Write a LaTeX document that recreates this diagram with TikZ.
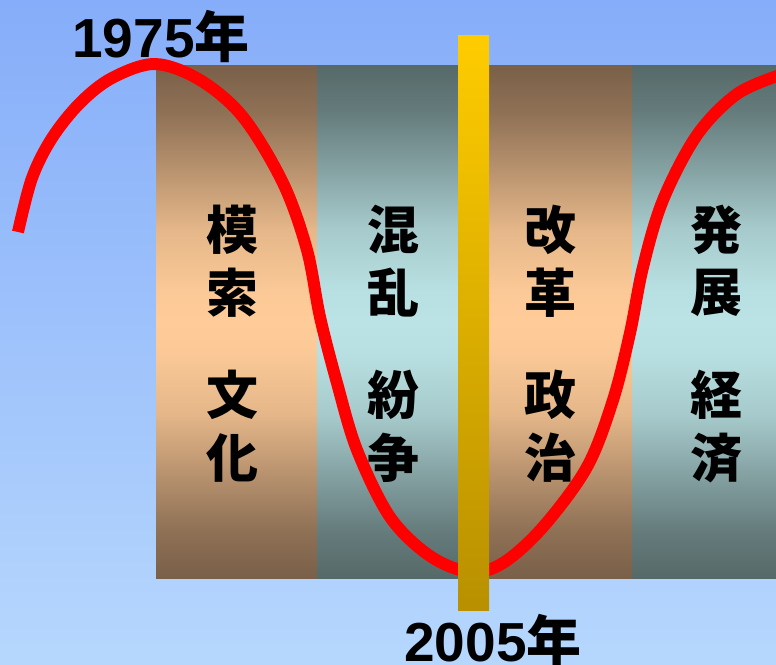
\documentclass[tikz,border=0pt]{standalone}
\usepackage{fontspec}
\setmainfont{Liberation Sans}
\newfontfamily\jp{Noto Sans CJK JP}
\definecolor{skytop}{HTML}{86ADF9}
\definecolor{skybot}{HTML}{B6D7FD}
\definecolor{peach}{HTML}{FFCC99}
\definecolor{peachdark}{HTML}{7A6049}
\definecolor{aqua}{HTML}{BBE3E5}
\definecolor{aquadark}{HTML}{566969}
\definecolor{gold}{HTML}{FFCC00}
\definecolor{golddark}{HTML}{B89000}
% band shading: dark at both ends, wide light middle
\newcommand\bandshade[3]{%
  \pgfdeclareverticalshading{#1}{100bp}{color(0bp)=(#3); color(25bp)=(#3);
    color(29.5bp)=(#2!15!#3); color(34bp)=(#2!40!#3); color(41bp)=(#2!80!#3);
    color(47bp)=(#2!97!#3); color(50bp)=(#2); color(53bp)=(#2!97!#3);
    color(59bp)=(#2!80!#3); color(66bp)=(#2!40!#3); color(70.5bp)=(#2!15!#3);
    color(75bp)=(#3); color(100bp)=(#3)}}
\bandshade{peachband}{peach}{peachdark}
\bandshade{aquaband}{aqua}{aquadark}
\tikzset{
  kanji/.style={font=\jp\bfseries\fontsize{52}{52}\selectfont, inner sep=0pt},
  year/.style={font=\bfseries\fontsize{55}{55}\selectfont, inner sep=0pt, anchor=base},
}

\begin{document}
\begin{tikzpicture}[x=1pt,y=-1pt]
    \fill[top color=skytop,bottom color=skybot] (0,0) rectangle (776,664);
    \useasboundingbox (0,0) rectangle (776,664);
    % bands
    \foreach \xa/\xb/\c in {156/317/peach,317/475/aqua,475/632/peach,632/776/aqua} {
        \fill[shading=\c band] (\xa,65) rectangle (\xb,578);
      }
    % wave
    \draw[red,line width=12pt] plot[smooth,tension=0.55] coordinates {
        (18,232) (32,178) (52,138) (80,103) (112,78) (155,64) (200,80) (243,117)
        (283,183) (307,250) (320,317) (337,383) (357,450) (390,517) (430,556)
        (470,572) (503,563) (543,527) (587,467) (613,400) (630,333) (643,267)
        (663,200) (697,135) (737,94) (780,75)};
    \fill[top color=gold,bottom color=golddark] (458,35) rectangle (489,610);
    % labels
    \foreach \x/\a/\b/\cc/\d in {232/模/索/文/化,393/混/乱/紛/争,550/改/革/政/治,716/発/展/経/済} {
        \node[kanji] (k\a) at (\x,230) {\a};
        \node[kanji] (k\b) at (\x,293) {\b};
        \node[kanji] (k\cc) at (\x,395) {\cc};
        \node[kanji] (k\d) at (\x,458) {\d};
      }
    \node[year] (start) at (161,57) {1975{\jp\bfseries 年}};
    \node[year] (now) at (493,661) {2005{\jp\bfseries 年}};
  \end{tikzpicture}
\end{document}
